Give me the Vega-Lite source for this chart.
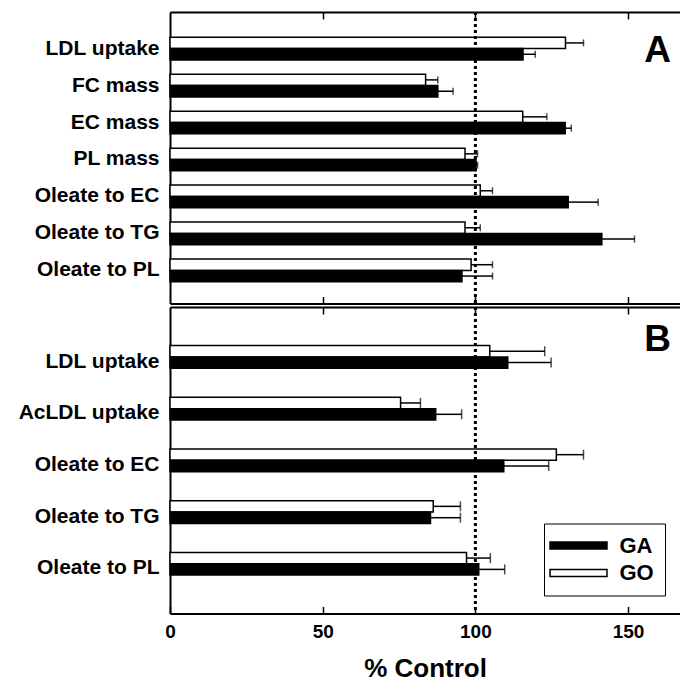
{
  "$schema": "https://vega.github.io/schema/vega-lite/v6.json",
  "padding": {"left": 17, "top": 10, "right": 0, "bottom": 0},
  "config": {
    "font": "Liberation Sans",
    "view": {"stroke": null},
    "axis": {"grid": false, "domainColor": "black", "domainWidth": 2, "tickColor": "black", "tickWidth": 1.5, "labelColor": "black", "titleColor": "black", "labelFontWeight": "bold", "titleFontWeight": "bold"}
  },
  "datasets": {
    "a": [
      {"cat": "LDL uptake", "group": "GO", "value": 129.5, "upper": 135.4},
      {"cat": "LDL uptake", "group": "GA", "value": 115.6, "upper": 119.6},
      {"cat": "FC mass", "group": "GO", "value": 83.7, "upper": 87.7},
      {"cat": "FC mass", "group": "GA", "value": 87.7, "upper": 92.7},
      {"cat": "EC mass", "group": "GO", "value": 115.5, "upper": 123.4},
      {"cat": "EC mass", "group": "GA", "value": 129.4, "upper": 131.4},
      {"cat": "PL mass", "group": "GO", "value": 96.6, "upper": 100.7},
      {"cat": "PL mass", "group": "GA", "value": 100.2, "upper": 100.7},
      {"cat": "Oleate to EC", "group": "GO", "value": 101.6, "upper": 105.6},
      {"cat": "Oleate to EC", "group": "GA", "value": 130.4, "upper": 140.2},
      {"cat": "Oleate to TG", "group": "GO", "value": 96.6, "upper": 101.6},
      {"cat": "Oleate to TG", "group": "GA", "value": 141.4, "upper": 152.1},
      {"cat": "Oleate to PL", "group": "GO", "value": 98.6, "upper": 105.6},
      {"cat": "Oleate to PL", "group": "GA", "value": 95.6, "upper": 105.6}
    ],
    "b": [
      {"cat": "LDL uptake", "group": "GO", "value": 104.7, "upper": 122.7},
      {"cat": "LDL uptake", "group": "GA", "value": 110.6, "upper": 124.8},
      {"cat": "AcLDL uptake", "group": "GO", "value": 75.5, "upper": 82.0},
      {"cat": "AcLDL uptake", "group": "GA", "value": 87.0, "upper": 95.5},
      {"cat": "Oleate to EC", "group": "GO", "value": 126.5, "upper": 135.4},
      {"cat": "Oleate to EC", "group": "GA", "value": 109.3, "upper": 124.0},
      {"cat": "Oleate to TG", "group": "GO", "value": 86.2, "upper": 95.1},
      {"cat": "Oleate to TG", "group": "GA", "value": 85.3, "upper": 95.1},
      {"cat": "Oleate to PL", "group": "GO", "value": 97.1, "upper": 104.9},
      {"cat": "Oleate to PL", "group": "GA", "value": 101.1, "upper": 109.6}
    ],
    "ref": [{"x": 100}],
    "lab": [
      {"panel": "A", "label": "A", "x": 159.7, "cat": "LDL uptake"},
      {"panel": "B", "label": "B", "x": 159.7, "cat": "LDL uptake"}
    ]
  },
  "spacing": 0,
  "resolve": {"scale": {"x": "independent", "y": "independent", "fill": "independent"}, "legend": {"fill": "independent"}},
  "vconcat": [
    {
      "width": 510,
      "height": 291.5,
      "resolve": {"axis": {"x": "independent"}},
      "layer": [
        {
          "data": {"name": "a"},
          "mark": {"type": "bar", "stroke": "black", "strokeWidth": 1.5},
          "encoding": {
            "y": {"field": "cat", "type": "nominal", "scale": {"domain": ["LDL uptake", "FC mass", "EC mass", "PL mass", "Oleate to EC", "Oleate to TG", "Oleate to PL"], "paddingInner": 0.386, "paddingOuter": 0.636, "align": 0.537}, "axis": {"title": null, "ticks": false, "labelFontSize": 21, "labelPadding": 11}},
            "yOffset": {"field": "group", "type": "nominal", "scale": {"domain": ["GO", "GA"], "paddingInner": 0, "paddingOuter": 0}},
            "x": {"field": "value", "type": "quantitative", "scale": {"domain": [0, 167], "nice": false}, "axis": {"orient": "bottom", "labels": false, "title": null, "tickSize": -7, "values": [50, 100, 150]}},
            "fill": {"field": "group", "type": "nominal", "scale": {"domain": ["GA", "GO"], "range": ["black", "white"]}, "legend": null}
          }
        },
        {
          "data": {"name": "a"},
          "mark": {"type": "rule", "stroke": "black", "strokeWidth": 1.5},
          "encoding": {
            "y": {"field": "cat", "type": "nominal"},
            "yOffset": {"field": "group", "type": "nominal"},
            "x": {"field": "value", "type": "quantitative", "axis": null},
            "x2": {"field": "upper"}
          }
        },
        {
          "data": {"name": "a"},
          "mark": {"type": "tick", "color": "black", "thickness": 1.5, "size": 7},
          "encoding": {
            "y": {"field": "cat", "type": "nominal"},
            "yOffset": {"field": "group", "type": "nominal"},
            "x": {"field": "upper", "type": "quantitative", "axis": null}
          }
        },
        {
          "data": {"name": "ref"},
          "mark": {"type": "rule", "strokeDash": [3, 3], "strokeWidth": 3, "color": "black"},
          "encoding": {
            "x": {"field": "x", "type": "quantitative", "axis": {"orient": "top", "labels": false, "title": null, "tickSize": -7, "values": [50, 100, 150]}}
          }
        },
        {
          "data": {"name": "lab"},
          "transform": [{"filter": "datum.panel === 'A'"}],
          "mark": {"type": "text", "fontSize": 37, "fontWeight": "bold", "align": "center", "baseline": "middle", "dy": 2, "color": "black"},
          "encoding": {
            "x": {"field": "x", "type": "quantitative", "axis": null},
            "y": {"field": "cat", "type": "nominal"},
            "text": {"field": "label"}
          }
        }
      ]
    },
    {
      "width": 510,
      "height": 306.5,
      "resolve": {"axis": {"x": "independent"}},
      "layer": [
        {
          "data": {"name": "b"},
          "mark": {"type": "bar", "stroke": "black", "strokeWidth": 1.5},
          "encoding": {
            "y": {"field": "cat", "type": "nominal", "scale": {"domain": ["LDL uptake", "AcLDL uptake", "Oleate to EC", "Oleate to TG", "Oleate to PL"], "paddingInner": 0.381, "paddingOuter": 0.655, "align": 0.57}, "axis": {"title": null, "ticks": false, "labelFontSize": 21, "labelPadding": 11}},
            "yOffset": {"field": "group", "type": "nominal", "scale": {"domain": ["GO", "GA"], "paddingInner": 0, "paddingOuter": 0}},
            "x": {"field": "value", "type": "quantitative", "scale": {"domain": [0, 167], "nice": false}, "axis": {"orient": "bottom", "labelFlush": false, "labelFontSize": 19, "labelPadding": 16, "title": "% Control", "titleFontSize": 26, "titlePadding": 14, "tickSize": -7, "values": [0, 50, 100, 150]}},
            "fill": {"field": "group", "type": "nominal", "scale": {"domain": ["GA", "GO"], "range": ["black", "white"]},
              "legend": {"orient": "none", "legendX": 374, "legendY": 216.5, "title": null, "strokeColor": "black", "padding": 11, "symbolType": "M-8.14,-1H8.14V1H-8.14Z", "symbolSize": 49, "symbolOffset": 12.5, "symbolStrokeColor": "black", "symbolStrokeWidth": 1.5, "labelFontSize": 22, "labelFontWeight": "bold", "labelColor": "black", "labelOffset": 30, "rowPadding": 5.5}}
          }
        },
        {
          "data": {"name": "b"},
          "mark": {"type": "rule", "stroke": "black", "strokeWidth": 1.5},
          "encoding": {
            "y": {"field": "cat", "type": "nominal"},
            "yOffset": {"field": "group", "type": "nominal"},
            "x": {"field": "value", "type": "quantitative", "axis": null},
            "x2": {"field": "upper"}
          }
        },
        {
          "data": {"name": "b"},
          "mark": {"type": "tick", "color": "black", "thickness": 1.5, "size": 10},
          "encoding": {
            "y": {"field": "cat", "type": "nominal"},
            "yOffset": {"field": "group", "type": "nominal"},
            "x": {"field": "upper", "type": "quantitative", "axis": null}
          }
        },
        {
          "data": {"name": "ref"},
          "mark": {"type": "rule", "strokeDash": [3, 3], "strokeWidth": 3, "color": "black"},
          "encoding": {
            "x": {"field": "x", "type": "quantitative", "axis": {"orient": "top", "labels": false, "title": null, "tickSize": -7, "values": [50, 100, 150]}}
          }
        },
        {
          "data": {"name": "lab"},
          "transform": [{"filter": "datum.panel === 'B'"}],
          "mark": {"type": "text", "fontSize": 37, "fontWeight": "bold", "align": "center", "baseline": "middle", "dy": -22, "color": "black"},
          "encoding": {
            "x": {"field": "x", "type": "quantitative", "axis": null},
            "y": {"field": "cat", "type": "nominal"},
            "text": {"field": "label"}
          }
        }
      ]
    }
  ]
}
